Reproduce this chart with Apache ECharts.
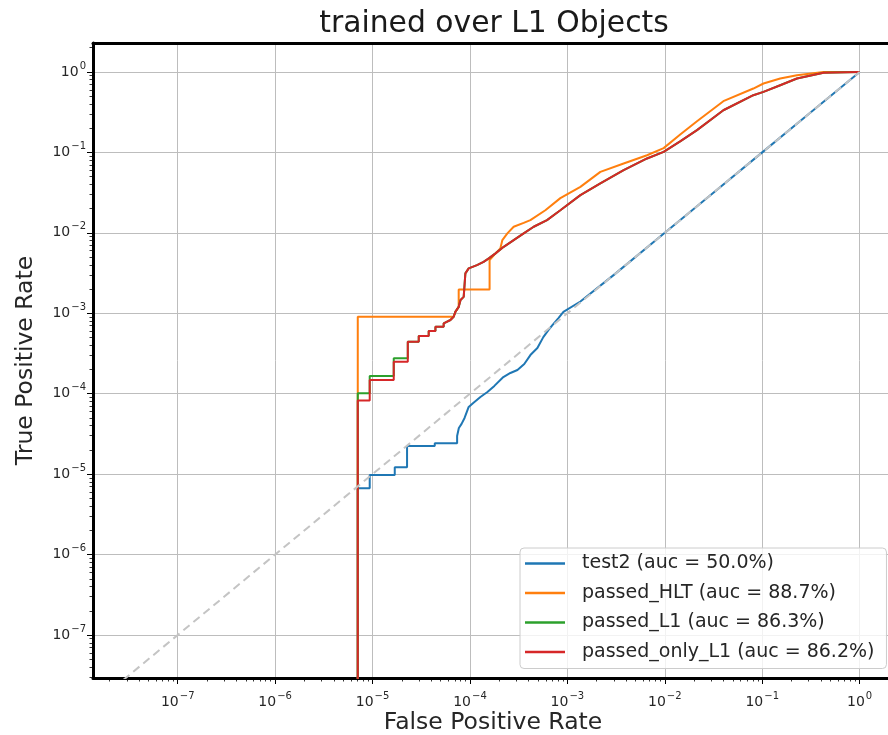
<!DOCTYPE html>
<html>
<head>
<meta charset="utf-8">
<title>ROC</title>
<script src="https://cdn.jsdelivr.net/npm/echarts@6/dist/echarts.min.js"></script>
<style>
html, body { margin: 0; padding: 0; background: #fff; }
#roc-chart { width: 888px; height: 735px; }
</style>
</head>
<body>
<div id="roc-chart"></div>
<script>
// axis limits (log scale) and decade ticks
var xMin = 1.35e-8, xMax = 2.2;
var yMin = 2.92e-8, yMax = 2.29;
var decadeTicks = [1e-7, 1e-6, 1e-5, 1e-4, 1e-3, 1e-2, 1e-1, 1];
var decadeLabels = ['\u22127', '\u22126', '\u22125', '\u22124', '\u22123', '\u22122', '\u22121', '0'];
var minorSteps = [2, 3, 4, 5, 6, 7, 8, 9];

var seriesNames = ['test2 (auc = 50.0%)', 'passed_HLT (auc = 88.7%)', 'passed_L1 (auc = 86.3%)', 'passed_only_L1 (auc = 86.2%)'];

// roc points (fpr, tpr); 1e-9 stands for tpr = 0, below the visible range
var test2Fpr = [7.05e-6, 7.05e-6, 9.35e-6, 9.35e-6, 1.69e-5, 1.69e-5, 2.26e-5, 2.26e-5, 4.35e-5, 4.35e-5,
	7.38e-5, 7.38e-5, 7.69e-5, 8.2e-5, 8.8e-5, 9.7e-5, 1.08e-4, 1.28e-4, 1.51e-4, 1.78e-4,
	2.2e-4, 2.6e-4, 3.07e-4, 3.61e-4, 4.17e-4, 4.92e-4, 5.66e-4, 6.38e-4, 7.02e-4, 8.09e-4,
	9.1e-4, 1.36e-3, 3e-3, 1e-2, 3e-2, 0.1, 0.3, 1];
var test2Tpr = [1e-9, 6.68e-6, 6.68e-6, 9.77e-6, 9.77e-6, 1.22e-5, 1.22e-5, 2.24e-5, 2.24e-5, 2.42e-5,
	2.42e-5, 2.98e-5, 3.75e-5, 4.21e-5, 4.99e-5, 6.84e-5, 7.66e-5, 9.1e-5, 1.05e-4, 1.25e-4,
	1.61e-4, 1.81e-4, 1.97e-4, 2.34e-4, 3.02e-4, 3.69e-4, 5.05e-4, 6.17e-4, 7.13e-4, 8.71e-4,
	1.04e-3, 1.4e-3, 3e-3, 1e-2, 3e-2, 0.1, 0.3, 1];

var hltFpr = [7.05e-6, 7.05e-6, 6.8e-5, 7.08e-5, 7.66e-5, 7.66e-5, 1.59e-4, 1.59e-4, 1.66e-4, 1.83e-4,
	2.05e-4, 2.15e-4, 2.42e-4, 2.81e-4, 3.56e-4, 4.17e-4, 5.94e-4, 8.47e-4, 1.36e-3, 2.18e-3,
	3.78e-3, 6.57e-3, 9.73e-3, 1.45e-2, 2.14e-2, 3.99e-2, 8.11e-2, 0.103, 0.153, 0.227, 0.426, 1];
var hltTpr = [1e-9, 9.05e-4, 9.05e-4, 1.04e-3, 1.2e-3, 1.98e-3, 1.98e-3, 4.58e-3, 4.81e-3, 5.55e-3,
	6.4e-3, 8.12e-3, 9.84e-3, 1.19e-2, 1.33e-2, 1.44e-2, 1.91e-2, 2.7e-2, 3.73e-2, 5.73e-2,
	7.28e-2, 9.2e-2, 0.113, 0.168, 0.244, 0.433, 0.622, 0.718, 0.828, 0.91, 1, 1];

var l1Fpr = [7.05e-6, 7.05e-6, 9.35e-6, 9.35e-6, 1.65e-5, 1.65e-5, 2.3e-5, 2.3e-5, 2.98e-5, 2.98e-5,
	3.77e-5, 3.77e-5, 4.42e-5, 4.42e-5, 5.37e-5, 5.37e-5, 6.3e-5, 6.8e-5, 7.08e-5, 7.66e-5,
	8.0e-5, 8.62e-5, 8.97e-5, 9.7e-5, 1.18e-4, 1.38e-4, 1.56e-4, 1.83e-4, 2.22e-4, 2.81e-4,
	3.56e-4, 4.51e-4, 6.18e-4, 8.47e-4, 1.36e-3, 2.18e-3, 3.78e-3, 6.57e-3, 9.73e-3, 1.45e-2,
	2.14e-2, 3.99e-2, 8.11e-2, 0.103, 0.153, 0.227, 0.426, 1];
var l1Tpr = [1e-9, 1.01e-4, 1.01e-4, 1.66e-4, 1.66e-4, 2.75e-4, 2.75e-4, 4.43e-4, 4.43e-4, 5.21e-4,
	5.21e-4, 6.01e-4, 6.01e-4, 6.79e-4, 6.79e-4, 7.5e-4, 8.24e-4, 9.05e-4, 1.04e-3, 1.2e-3,
	1.46e-3, 1.6e-3, 3.13e-3, 3.61e-3, 3.97e-3, 4.36e-3, 4.81e-3, 5.55e-3, 6.7e-3, 8.12e-3,
	9.84e-3, 1.19e-2, 1.44e-2, 1.91e-2, 2.94e-2, 4.11e-2, 6.01e-2, 8.4e-2, 0.1015, 0.138,
	0.189, 0.334, 0.514, 0.565, 0.684, 0.828, 0.977, 1];

var onlyL1Fpr = [7.05e-6, 7.05e-6, 9.35e-6, 9.35e-6, 1.65e-5, 1.65e-5, 2.3e-5, 2.3e-5, 2.98e-5, 2.98e-5,
	3.77e-5, 3.77e-5, 4.42e-5, 4.42e-5, 5.37e-5, 5.37e-5, 6.3e-5, 6.8e-5, 7.08e-5, 7.66e-5,
	8.0e-5, 8.62e-5, 8.97e-5, 9.7e-5, 1.18e-4, 1.38e-4, 1.56e-4, 1.83e-4, 2.22e-4, 2.81e-4,
	3.56e-4, 4.51e-4, 6.18e-4, 8.47e-4, 1.36e-3, 2.18e-3, 3.78e-3, 6.57e-3, 9.73e-3, 1.45e-2,
	2.14e-2, 3.99e-2, 8.11e-2, 0.103, 0.153, 0.227, 0.426, 1];
var onlyL1Tpr = [1e-9, 8.2e-5, 8.2e-5, 1.48e-4, 1.48e-4, 2.5e-4, 2.5e-4, 4.43e-4, 4.43e-4, 5.21e-4,
	5.21e-4, 6.01e-4, 6.01e-4, 6.79e-4, 6.79e-4, 7.5e-4, 8.24e-4, 9.05e-4, 1.04e-3, 1.2e-3,
	1.46e-3, 1.6e-3, 3.13e-3, 3.61e-3, 3.97e-3, 4.36e-3, 4.81e-3, 5.55e-3, 6.7e-3, 8.12e-3,
	9.84e-3, 1.19e-2, 1.44e-2, 1.91e-2, 2.94e-2, 4.11e-2, 6.01e-2, 8.4e-2, 0.1015, 0.138,
	0.189, 0.334, 0.514, 0.565, 0.684, 0.828, 0.977, 1];

var diagFpr = [1e-9, 1];
var diagTpr = [1e-9, 1];

var font = 'DejaVu Sans';

function zip(xs, ys) {
	return xs.map(function (x, i) { return [x, ys[i]]; });
}

function minorTicks(lo, hi) {
	var out = [];
	for (var e = -9; e <= 0; e++) {
		minorSteps.forEach(function (m) {
			var v = m * Math.pow(10, e);
			if (v > lo && v < hi) out.push(v);
		});
	}
	return out;
}

function tickLabel(v) {
	var i = Math.round(Math.log(v) / Math.LN10) + 7;
	return '{m|10}{s|' + decadeLabels[i] + '}';
}

var labelRich = {
	m: { fontFamily: font, fontSize: 14, lineHeight: 22, color: '#262626' },
	s: { fontFamily: font, fontSize: 10, lineHeight: 10, padding: [0, 0, 12, 1], color: '#262626' }
};

function rocLine(name, xs, ys, color) {
	return {
		name: name,
		type: 'line',
		data: zip(xs, ys),
		showSymbol: false,
		symbol: 'none',
		clip: true,
		lineStyle: { color: color, width: 2 },
		itemStyle: { color: color },
		emphasis: { disabled: true }
	};
}

var rocChart = echarts.init(document.getElementById('roc-chart'));
var rocOption = {
	animation: false,
	backgroundColor: '#fff',
	title: {
		text: 'trained over L1 Objects',
		left: 494,
		top: 9,
		textAlign: 'center',
		padding: 0,
		textStyle: { fontFamily: font, fontSize: 29.8, fontWeight: 'normal', color: '#1a1a1a' }
	},
	legend: {
		data: seriesNames,
		orient: 'vertical',
		left: 520,
		top: 548,
		icon: 'rect',
		itemWidth: 40,
		itemHeight: 2.5,
		itemGap: 10.5,
		padding: [6, 12, 7, 5],
		backgroundColor: 'rgba(255,255,255,0.8)',
		borderColor: '#cccccc',
		borderWidth: 1,
		borderRadius: 4,
		textStyle: { fontFamily: font, fontSize: 19, color: '#262626', padding: [0, 0, 0, 12] }
	},
	grid: { left: 93, top: 43, width: 800, height: 635, containLabel: false, outerBoundsMode: 'none' },
	xAxis: [{
		type: 'log', logBase: 10, min: xMin, max: xMax,
		position: 'bottom',
		name: 'False Positive Rate',
		nameLocation: 'middle',
		nameGap: 33,
		nameMoveOverlap: false,
		nameTextStyle: { fontFamily: font, fontSize: 23.5, color: '#262626' },
		axisLine: { onZero: false, lineStyle: { color: '#000', width: 3 } },
		axisTick: { customValues: decadeTicks, length: 6, lineStyle: { color: '#000', width: 1 } },
		axisLabel: { customValues: decadeTicks, formatter: tickLabel, margin: 13, rich: labelRich },
		splitLine: { show: true, lineStyle: { color: '#bdbdbd', width: 1 } }
	}, {
		type: 'log', logBase: 10, min: xMin, max: xMax,
		position: 'bottom',
		axisLine: { show: false },
		axisTick: { customValues: minorTicks(xMin, xMax), length: 3.5, lineStyle: { color: '#000', width: 0.8 } },
		axisLabel: { show: false },
		splitLine: { show: false }
	}, {
		type: 'log', logBase: 10, min: xMin, max: xMax,
		position: 'top',
		axisLine: { lineStyle: { color: '#000', width: 3 } },
		axisTick: { show: false },
		axisLabel: { show: false },
		splitLine: { show: false }
	}],
	yAxis: [{
		type: 'log', logBase: 10, min: yMin, max: yMax,
		position: 'left',
		name: 'True Positive Rate',
		nameLocation: 'middle',
		nameGap: 55,
		nameMoveOverlap: false,
		nameTextStyle: { fontFamily: font, fontSize: 23.5, color: '#262626' },
		axisLine: { onZero: false, lineStyle: { color: '#000', width: 3 } },
		axisTick: { customValues: decadeTicks, length: 6, lineStyle: { color: '#000', width: 1 } },
		axisLabel: { customValues: decadeTicks, formatter: tickLabel, margin: 7, rich: labelRich },
		splitLine: { show: true, lineStyle: { color: '#bdbdbd', width: 1 } }
	}, {
		type: 'log', logBase: 10, min: yMin, max: yMax,
		position: 'left',
		axisLine: { show: false },
		axisTick: { customValues: minorTicks(yMin, yMax), length: 3.5, lineStyle: { color: '#000', width: 0.8 } },
		axisLabel: { show: false },
		splitLine: { show: false }
	}],
	series: [
		rocLine(seriesNames[0], test2Fpr, test2Tpr, '#1f77b4'),
		rocLine(seriesNames[1], hltFpr, hltTpr, '#ff7f0e'),
		rocLine(seriesNames[2], l1Fpr, l1Tpr, '#2ca02c'),
		rocLine(seriesNames[3], onlyL1Fpr, onlyL1Tpr, '#d62728'),
		{
			name: 'diagonal',
			type: 'line',
			data: zip(diagFpr, diagTpr),
			showSymbol: false,
			symbol: 'none',
			clip: true,
			lineStyle: { color: '#c4c4c4', width: 2, type: [8, 5] },
			emphasis: { disabled: true }
		}
	]
};
rocChart.setOption(rocOption);
</script>
</body>
</html>
